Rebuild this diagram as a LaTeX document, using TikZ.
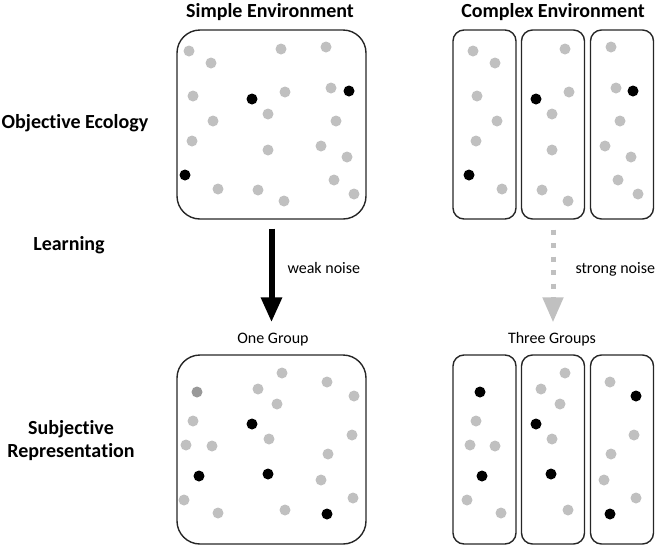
\documentclass[tikz,border=0pt]{standalone}
\usepackage{fontspec}
\setmainfont[RawFeature={-liga;-clig;-calt;-dlig}]{Carlito}
\usetikzlibrary{arrows.meta}
\definecolor{dotgray}{HTML}{C0C0C0}
\definecolor{dotdark}{HTML}{999999}
\definecolor{edge}{HTML}{262626}
\tikzset{
  envbox/.style={draw=edge, line width=1.4pt, rounded corners=23pt, minimum width=189pt, minimum height=189pt, inner sep=0pt},
  panel/.style={draw=edge, line width=1.4pt, rounded corners=11pt, minimum width=63pt, minimum height=189pt, inner sep=0pt},
  title/.style={font=\fontsize{20}{24}\selectfont\bfseries},
  rowlabel/.style={font=\fontsize{20}{23}\selectfont\bfseries, align=center},
  small/.style={font=\fontsize{16}{19}\selectfont},
  bigarrow/.style={line width=6pt, draw=black, -{Triangle[width=20pt,length=25pt]}},
  noisearrow/.style={line width=5pt, draw=dotgray, dash pattern=on 5pt off 8.5pt, -{Triangle[width=20pt,length=25pt]}},
}
\newcommand{\gdots}[1]{\foreach \p in {#1} \fill[dotgray] \p circle (5.5pt);}
\newcommand{\bdots}[1]{\foreach \p in {#1} \fill[black] \p circle (5.5pt);}
\begin{document}
\begin{tikzpicture}[x=1pt,y=-1pt]
\useasboundingbox (0,0) rectangle (657,547);
% titles
\node[title] (t1) at (270,12) {Simple Environment};
\node[title] (t2) at (553,12) {Complex Environment};
% row labels
\node[rowlabel] (r1) at (75,123) {Objec\kern0pt tive Ecology};
\node[rowlabel] (r2) at (69,245) {Learning};
\node[rowlabel] (r3) at (71,441) {Subjec\kern0pt tive\\Representa\kern0pt tion};
% boxes
\node[envbox] (stop) at (271.5,124.5) {};
\node[panel] (p1) at (484.5,124.5) {};
\node[panel] (p2) at (553,124.5) {};
\node[panel] (p3) at (622,124.5) {};
\node[envbox] (sbot) at (271.5,449.5) {};
\node[panel] (q1) at (484.5,449.5) {};
\node[panel] (q2) at (553,449.5) {};
\node[panel] (q3) at (622,449.5) {};
% group labels
\node[small] (g1) at (273,340) {One Group};
\node[small] (g2) at (552,339) {Three Groups};
% arrows
\draw[bigarrow] ([yshift=-9pt]stop.south) -- ([yshift=32pt]sbot.north -| stop.south);
\draw[noisearrow] ([yshift=-10pt]p2.south) -- ([yshift=32pt]q2.north);
\node[small, anchor=west] (wn) at (284,268) {weak noise};
\node[small, anchor=west] (sn) at (572,269) {strong noise};
% top simple dots
\gdots{(189,51),(211,63),(281,49),(326,47),(193,96),(285,92),(331,88),(213,121),(268,114),(336,121),(192,141),(268,150),(321,146),(347,157),(218,189),(258,190),(284,201),(334,180),(354,194)}
\bdots{(252,99),(349,91),(185,175)}
% top complex dots
\gdots{(473,51),(495,63),(477,96),(497,121),(476,141),(502,189)}
\bdots{(469,175)}
\gdots{(565,49),(569,92),(552,114),(552,150),(542,190),(568,201)}
\bdots{(536,99)}
\gdots{(611,47),(616,88),(620,121),(605,146),(631,157),(618,180),(638,194)}
\bdots{(633,91)}
% bottom simple dots
\fill[dotdark] (197,392) circle (5.5pt);
\gdots{(258,389),(282,373),(327,382),(354,396),(277,404),(193,421),(269,439),(352,435),(186,445),(212,446),(328,454),(321,480),(184,500),(353,498),(218,513),(285,510)}
\bdots{(252,424),(199,476),(268,474),(327,514)}
% bottom complex dots
\gdots{(476,421),(470,445),(495,446),(467,500),(501,513)}
\bdots{(480,392),(482,476)}
\gdots{(565,373),(541,389),(560,404),(552,439),(568,510)}
\bdots{(536,424),(551,474)}
\gdots{(610,382),(634,435),(611,454),(604,480),(636,498)}
\bdots{(636,396),(610,514)}
\end{tikzpicture}
\end{document}
